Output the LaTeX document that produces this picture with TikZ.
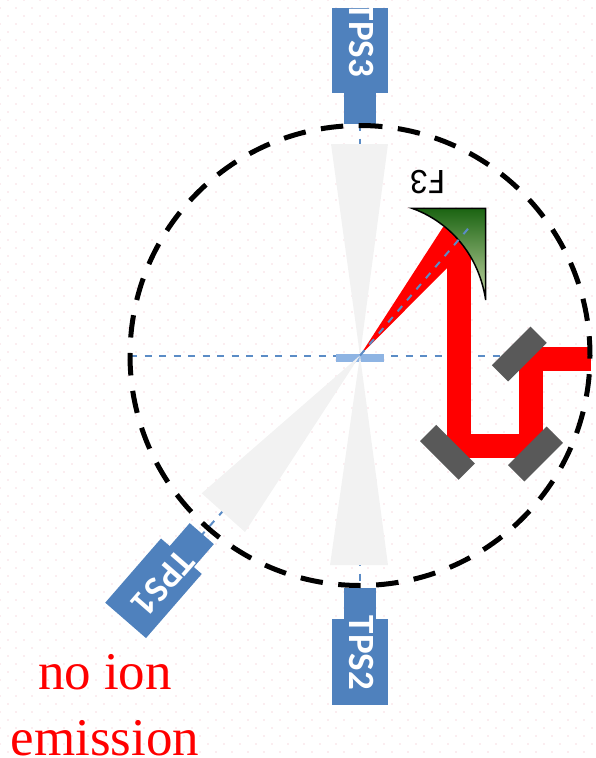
\documentclass[tikz,border=0pt]{standalone}
\usepackage{fontspec}
\setmainfont{Liberation Serif}
\setsansfont{Carlito}
\definecolor{tpsblue}{HTML}{4F81BD}
\definecolor{axisblue}{HTML}{5B8CC6}
\definecolor{padblue}{HTML}{8EB4E3}
\definecolor{conegray}{HTML}{F2F2F2}
\definecolor{mirrorgray}{HTML}{595959}
\definecolor{greendark}{HTML}{1B6412}
\definecolor{greenlight}{HTML}{C6D8A6}
\definecolor{dotpink}{HTML}{FBEDF0}
\tikzset{
  tpshead/.style={
    fill=tpsblue,
    minimum width=85pt,
    minimum height=56pt,
    inner sep=0pt
  },
  tpsneck/.style={
    fill=tpsblue,
    minimum width=31pt,
    minimum height=32pt,
    inner sep=0pt
  },
  tpslabel/.style={
    text=white,
    inner sep=0pt,
    font=\sffamily\bfseries\fontsize{37}{37}\selectfont
  },
  mirror/.style={
    fill=mirrorgray,
    minimum width=54.7pt,
    minimum height=23pt,
    inner sep=0pt
  },
  axis/.style={
    draw=axisblue,
    line width=2pt,
    dash pattern=on 7pt off 7.5pt
  },
  cone/.style={
    fill=conegray
  },
  beam/.style={
    draw=red,
    line width=24pt,
    line join=miter
  }
}

\begin{document}
\begin{tikzpicture}[x=1pt, y=-1pt]

\useasboundingbox (0,0) rectangle (596,758);

% faint dots behind everything
\foreach \row in {0,...,94} {
  \foreach \col in {0,...,37} {
    \fill[dotpink] ({\col*16+8-8*mod(\row,2)-0.8},{\row*8-0.8}) rectangle +(1.6,1.6);
  }
}

\coordinate (center) at (360,355.5);
\coordinate (west) at (130,355.5);
\coordinate (east) at (505,355.5);
\coordinate (north) at (360,124);
\coordinate (south) at (360,588);
\coordinate (southwest) at (200,537);
\coordinate (focus) at (469.5,227);
\coordinate (beamin) at (591,358.7);
\coordinate (turnA) at (531,358.7);
\coordinate (turnB) at (531,446);
\coordinate (turnC) at (459,446);
\coordinate (beamtop) at (459,235);

% axes
\draw[axis] (west) -- (east);
\draw[axis] (north) -- (south);
\draw[axis] (southwest) -- (center);

\node[fill=padblue, minimum width=48pt, minimum height=8pt, inner sep=0pt] (pad) at (360,358) {};

% ion cones
\fill[cone] (center) -- (331,144) -- (388,144) -- cycle;
\fill[cone] (center) -- (330,565) -- (388,565) -- cycle;
\fill[cone] (center) -- (201.7,493.3) -- (245,532) -- cycle;

\node[tpsneck, minimum width=32pt, minimum height=31pt] (neck3) at (360,108.5) {};
\node[tpsneck, minimum width=32pt, minimum height=31pt] (neck2) at (360,603.5) {};
\node[tpsneck, rotate=229] (neck1) at (191.6,545.3) {};

\node[tpshead, minimum width=56pt, minimum height=85pt] (head3) at (360,50.5) {};
\node[tpshead, minimum width=56pt, minimum height=86pt] (head2) at (360,662) {};
\node[tpshead, rotate=229, minimum height=54pt] (head1) at (153.5,588.3) {};

\node[tpslabel, rotate=-90] (label3) at (362,40) {TPS3};
\node[tpslabel, rotate=-90] (label2) at (361.5,653) {TPS2};
\node[tpslabel, rotate=229] (label1) at (163,583) {TPS1};

% laser
\fill[red] (center) -- (443.3,226.7) -- (462,230) -- (471,270) -- (446.7,268.3) -- cycle;
\draw[beam] (beamin) -- (turnA) -- (turnB) -- (turnC) -- (beamtop);

\node[mirror, rotate=45] (mirrorA) at (519.3,354) {};
\node[mirror, rotate=-45] (mirrorB) at (447.5,452.3) {};
\node[mirror, rotate=45] (mirrorC) at (535.5,454) {};

% F3 parabola
\path[draw=black, line width=1.5pt, line join=miter, top color=greendark, bottom color=greenlight]
  (412,208.3) .. controls (445,220) and (478,250) .. (485.7,300) -- (485.7,208.3) -- cycle;
\node[rotate=180, inner sep=0pt, font=\sffamily\fontsize{36}{36}\selectfont] (f3) at (427.5,182.5) {F3};

\draw[axis] (center) -- (focus);

% chamber
\draw[black, line width=5pt, dash pattern=on 22.5pt off 15.5pt]
  (360,125.5) arc[start angle=-90, end angle=270, radius=230];

\node[text=red, align=center, inner sep=0pt, font=\fontsize{53}{66}\selectfont] (noion) at (105,705) {no ion\\emission};

\end{tikzpicture}
\end{document}
